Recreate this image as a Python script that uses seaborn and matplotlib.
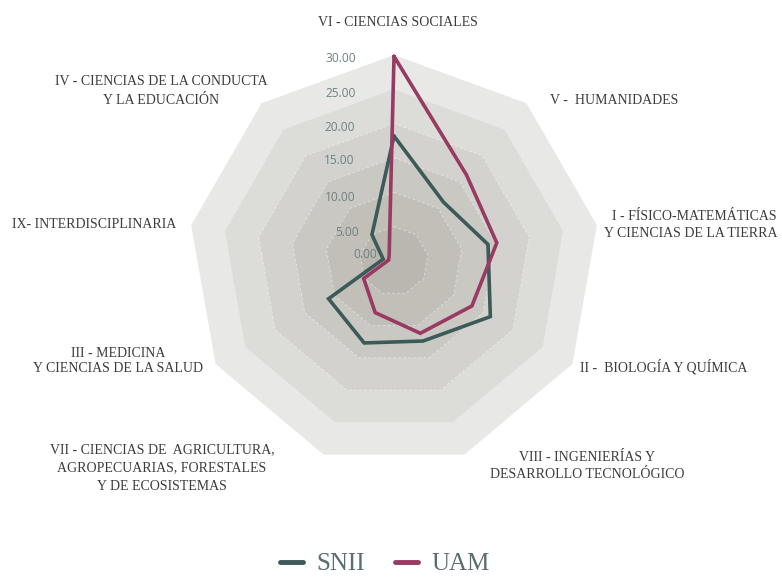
import numpy as np
import pandas as pd
import matplotlib
matplotlib.use('Agg')
import matplotlib.pyplot as plt
import seaborn as sns

# Areas in clockwise order, starting at the top
areas = ['VI', 'V', 'I', 'II', 'VIII', 'VII', 'III', 'IX', 'IV']
area_labels = [
    'VI - CIENCIAS SOCIALES',
    'V -  HUMANIDADES',
    'I - FÍSICO-MATEMÁTICAS\nY CIENCIAS DE LA TIERRA',
    'II -  BIOLOGÍA Y QUÍMICA',
    'VIII - INGENIERÍAS Y\nDESARROLLO TECNOLÓGICO',
    'VII - CIENCIAS DE  AGRICULTURA,\nAGROPECUARIAS, FORESTALES\nY DE ECOSISTEMAS',
    'III - MEDICINA\nY CIENCIAS DE LA SALUD',
    'IX- INTERDISCIPLINARIA',
    'IV - CIENCIAS DE LA CONDUCTA\nY LA EDUCACIÓN',
]
snii = [18.2, 11.2, 13.9, 16.2, 12.4, 12.7, 11.0, 1.6, 5.0]
uam = [29.8, 16.4, 15.2, 13.1, 11.2, 8.0, 5.1, 0.8, 1.1]
ring_values = [0, 5, 10, 15, 20, 25, 30]
ring_labels = ['0.00', '5.00', '10.00', '15.00', '20.00', '25.00', '30.00']

# long table, closed loop for each series
n = len(areas)
theta = np.arange(n) * 2 * np.pi / n
rows = []
for name, vals in [('SNII', snii), ('UAM', uam)]:
    for i in range(n + 1):
        rows.append([name, theta[i % n] + (2 * np.pi if i == n else 0), vals[i % n]])
df = pd.DataFrame(rows, columns=['serie', 'theta', 'valor'])

sns.set_style('white')
plt.rcParams['font.family'] = ['Liberation Serif', 'DejaVu Serif']

W, H = 782, 577
cx, cy, R = 394, 261, 206 * 31 / 30
fig = plt.figure(figsize=(W / 100, H / 100), dpi=100)
ax = fig.add_axes([(cx - R) / W, (H - cy - R) / H, 2 * R / W, 2 * R / H], projection='polar')
ax.set_theta_offset(np.pi / 2)
ax.set_theta_direction(-1)
ax.set_ylim(0, 31)
ax.axis('off')

# background bands
band_colors = ['#e8e9e6', '#dcdcd8', '#d3d2ce', '#cac8c3', '#c2bfb9', '#bab6b0']
t_closed = np.append(theta, theta[0] + 2 * np.pi)
for r, c in zip(ring_values[:0:-1], band_colors):
    ax.fill(t_closed, [r] * (n + 1), color=c, lw=0, zorder=1)
for r in ring_values[1:-2]:
    ax.plot(t_closed, [r] * (n + 1), color='white', lw=0.6, ls=(0, (3, 3)), alpha=0.5, zorder=2)

palette = {'SNII': '#3b5a58', 'UAM': '#983a62'}
sns.lineplot(data=df, x='theta', y='valor', hue='serie', palette=palette, sort=False,
             estimator=None, lw=2.6, solid_joinstyle='miter', legend=False, ax=ax, zorder=5)
for line in ax.lines[-2:]:
    line.set_clip_on(False)

# radial tick labels
tick_offsets = [(-17, 6), (-35, -6), (-38, -5), (-40, -3), (-39, -4), (-38, -4), (-38, -3)]
for v, lab, (dx, dy) in zip(ring_values, ring_labels, tick_offsets):
    ax.annotate(lab, xy=(0, v), xytext=(dx, dy), textcoords='offset pixels',
                ha='right', va='center', fontsize=8.6, color='#6e8282',
                family=['Open Sans', 'DejaVu Sans'], zorder=6)

# category labels (pixel positions from the reference)
label_pos = [
    (398, 22, 'center', 20),
    (550, 101, 'left', 20),
    (777, 225, 'right', 20),
    (580, 367, 'left', 20),
    (587, 466, 'center', 20),
    (162, 468, 'center', 21),
    (118, 361, 'center', 15),
    (12, 225, 'left', 20),
    (161, 91, 'center', 21),
]
for txt, (x, y, ha, ls) in zip(area_labels, label_pos):
    fig.text(x / W, 1 - y / H, txt, ha=ha, va='center', multialignment=ha,
             fontsize=10, color='#3c3c3c', linespacing=ls / 13.5)

handles = [plt.Line2D([], [], color=palette[k], lw=3.5) for k in ['SNII', 'UAM']]
fig.legend(handles, ['SNII', 'UAM'], loc='center', bbox_to_anchor=(385 / W, 1 - 564 / H),
           ncol=2, frameon=False, fontsize=18, labelcolor='#5b6e6e',
           handlelength=0.9, handletextpad=0.55, columnspacing=1.2,
           borderpad=0.1)

fig.savefig('out.png', dpi=100, facecolor='white')
